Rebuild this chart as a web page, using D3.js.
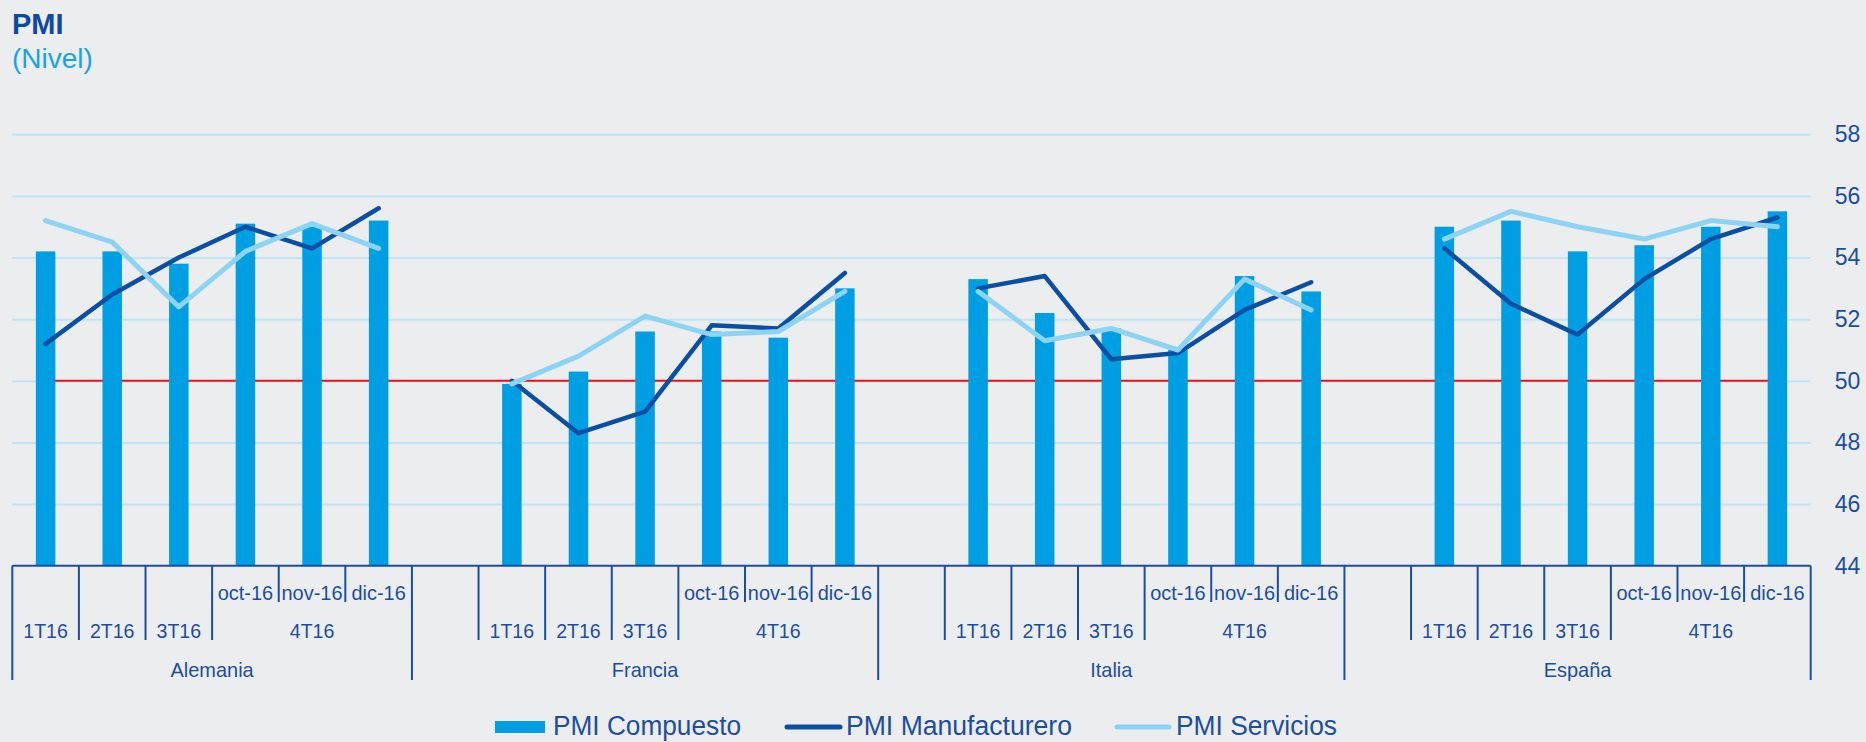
<!DOCTYPE html>
<html>
<head>
<meta charset="utf-8">
<script src="https://cdn.jsdelivr.net/npm/d3@7"></script>
<style>
  html, body { margin: 0; padding: 0; background: #ecedef; }
  svg { display: block; }
  text { font-family: "Liberation Sans", Arial, sans-serif; }
</style>
</head>
<body>
<svg id="chart" width="1866" height="742"></svg>
<script>
// ---- data ----
const countries = ["Alemania", "Francia", "Italia", "España"];
const periods = ["1T16", "2T16", "3T16", "oct-16", "nov-16", "dic-16"];
const monthLabels = ["", "", "", "oct-16", "nov-16", "dic-16"];
const quarterLabels = ["1T16", "2T16", "3T16", "4T16"];
const yTicks = [44, 46, 48, 50, 52, 54, 56, 58];
const seriesNames = ["PMI Compuesto", "PMI Manufacturero", "PMI Servicios"];

const compuesto = [54.2, 54.2, 53.8, 55.1, 55.0, 55.2,
                   49.9, 50.3, 51.6, 51.6, 51.4, 53.0,
                   53.3, 52.2, 51.7, 51.0, 53.4, 52.9,
                   55.0, 55.2, 54.2, 54.4, 55.0, 55.5];
const manufacturero = [51.2, 52.8, 54.0, 55.0, 54.3, 55.6,
                       50.0, 48.3, 49.0, 51.8, 51.7, 53.5,
                       53.0, 53.4, 50.7, 50.9, 52.3, 53.2,
                       54.3, 52.5, 51.5, 53.3, 54.6, 55.3];
const servicios = [55.2, 54.5, 52.4, 54.2, 55.1, 54.3,
                   49.9, 50.8, 52.1, 51.5, 51.6, 52.9,
                   52.9, 51.3, 51.7, 51.0, 53.3, 52.3,
                   54.6, 55.5, 55.0, 54.6, 55.2, 55.0];
const referenceLevel = 50;

(function () {
// ---- layout ----
const svg = d3.select("#chart");
const pLeft = 12.3, pRight = 1810.7, pTop = 134.3, pBottom = 565.7;
const cBar = "#009fe3", cMan = "#0a4fa3", cSer = "#8dd3f3", cText = "#1c4e9f", cGrid = "#bfe4f6";

// build leaf categories: first country has 6, others get a leading empty slot
const leaves = [];
countries.forEach((c, ci) => {
  if (ci > 0) leaves.push({ country: c, idx: -1, key: c + "-gap" });
  periods.forEach((p, pi) => leaves.push({ country: c, idx: pi, key: c + "-" + p, dataIndex: ci * 6 + pi }));
});

const x = d3.scaleBand().domain(leaves.map(d => d.key)).range([pLeft, pRight]).paddingInner(0).paddingOuter(0);
const y = d3.scaleLinear().domain([44, 58]).range([pBottom, pTop]);
const bw = x.bandwidth();
const cx = k => x(k) + bw / 2;

function squeeze(sel, f) {
  sel.each(function () {
    const w = this.getComputedTextLength();
    d3.select(this).attr("textLength", w * f).attr("lengthAdjust", "spacingAndGlyphs");
  });
}

// title
svg.append("text").attr("x", 12).attr("y", 34).attr("font-size", 29).attr("font-weight", "bold")
  .attr("fill", "#0d4a9e").text("PMI");
svg.append("text").attr("x", 12).attr("y", 68).attr("font-size", 28).attr("fill", "#1aa3e2").text("(Nivel)");

// gridlines
const yAxis = d3.axisRight(y).tickValues(yTicks).tickSize(-(pRight - pLeft)).tickFormat(d3.format("d")).tickPadding(24);
const gy = svg.append("g").attr("transform", `translate(${pRight},0)`).call(yAxis);
gy.select(".domain").remove();
gy.selectAll(".tick line").attr("stroke", cGrid).attr("stroke-width", 2)
  .filter(d => d === 44).remove();
gy.selectAll(".tick text").attr("font-size", 23).attr("fill", cText)
  .attr("font-family", "'Liberation Sans', Arial, sans-serif");

// reference line at 50
const dataLeaves = leaves.filter(d => d.idx >= 0);
svg.append("line")
  .attr("x1", cx(dataLeaves[0].key)).attr("x2", cx(dataLeaves[dataLeaves.length - 1].key))
  .attr("y1", y(referenceLevel)).attr("y2", y(referenceLevel))
  .attr("stroke", "#e8141b").attr("stroke-width", 2);

// bars
const barW = 19.5;
svg.append("g").selectAll("rect").data(dataLeaves).join("rect")
  .attr("x", d => cx(d.key) - barW / 2)
  .attr("width", barW)
  .attr("y", d => y(compuesto[d.dataIndex]))
  .attr("height", d => y(44) - y(compuesto[d.dataIndex]))
  .attr("fill", cBar);

// lines per country
const lineGen = d3.line().x(d => d[0]).y(d => d[1]);
function drawSeries(values, color, width) {
  countries.forEach((c) => {
    const pts = dataLeaves.filter(d => d.country === c).map(d => [cx(d.key), y(values[d.dataIndex])]);
    svg.append("path").attr("d", lineGen(pts)).attr("fill", "none")
      .attr("stroke", color).attr("stroke-width", width)
      .attr("stroke-linecap", "round").attr("stroke-linejoin", "round");
  });
}
drawSeries(manufacturero, cMan, 4.5);
drawSeries(servicios, cSer, 5);

// category axis
const ax = svg.append("g");
ax.append("line").attr("x1", pLeft).attr("x2", pRight).attr("y1", pBottom).attr("y2", pBottom)
  .attr("stroke", cText).attr("stroke-width", 2);

const yMonth = 602, yQuarter = 640, yCountry = 680;
const bounds = [];
for (let i = 0; i <= leaves.length; i++) {
  const prev = leaves[i - 1], next = leaves[i];
  let depth;
  if (!prev || !next || prev.country !== next.country) depth = yCountry;
  else if (prev.idx >= 3 && next.idx >= 3) depth = yMonth;
  else depth = yQuarter;
  const xx = next ? x(next.key) : pRight;
  bounds.push({ x: xx, depth });
}
ax.selectAll("line.tick").data(bounds).join("line").attr("class", "tick")
  .attr("x1", d => d.x).attr("x2", d => d.x).attr("y1", pBottom).attr("y2", d => d.depth)
  .attr("stroke", cText).attr("stroke-width", 2);

// month labels
const mt = ax.selectAll("text.month").data(dataLeaves.filter(d => monthLabels[d.idx] !== "")).join("text")
  .attr("class", "month").attr("x", d => cx(d.key)).attr("y", 600).attr("text-anchor", "middle")
  .attr("font-size", 21).attr("fill", cText).text(d => monthLabels[d.idx]);
squeeze(mt, 0.95);

// quarter labels
const qData = [];
countries.forEach(c => {
  const ls = dataLeaves.filter(d => d.country === c);
  [0, 1, 2].forEach(i => qData.push({ label: quarterLabels[i], x: cx(ls[i].key) }));
  qData.push({ label: quarterLabels[3], x: (x(ls[3].key) + x(ls[5].key) + bw) / 2 });
});
const qt = ax.selectAll("text.q").data(qData).join("text").attr("class", "q")
  .attr("x", d => d.x).attr("y", 638).attr("text-anchor", "middle")
  .attr("font-size", 21).attr("fill", cText).text(d => d.label);
squeeze(qt, 0.93);

// country labels
const cData = countries.map(c => {
  const ls = leaves.filter(d => d.country === c);
  return { label: c, x: (x(ls[0].key) + x(ls[ls.length - 1].key) + bw) / 2 };
});
const ct = ax.selectAll("text.c").data(cData).join("text").attr("class", "c")
  .attr("x", d => d.x).attr("y", 677).attr("text-anchor", "middle")
  .attr("font-size", 21).attr("fill", cText).text(d => d.label);
squeeze(ct, 0.95);

// legend
const lg = svg.append("g");
const legY = 727;
lg.append("rect").attr("x", 495).attr("y", legY - 6).attr("width", 50).attr("height", 12).attr("fill", cBar);
lg.append("line").attr("x1", 787).attr("x2", 840).attr("y1", legY).attr("y2", legY)
  .attr("stroke", cMan).attr("stroke-width", 5).attr("stroke-linecap", "round");
lg.append("line").attr("x1", 1117).attr("x2", 1169).attr("y1", legY).attr("y2", legY)
  .attr("stroke", cSer).attr("stroke-width", 5).attr("stroke-linecap", "round");
const legText = [
  { t: seriesNames[0], x: 553, w: 188 },
  { t: seriesNames[1], x: 846, w: 226 },
  { t: seriesNames[2], x: 1176, w: 161 }
];
lg.selectAll("text").data(legText).join("text")
  .attr("x", d => d.x).attr("y", 735).attr("font-size", 27).attr("fill", cText)
  .attr("textLength", d => d.w).attr("lengthAdjust", "spacingAndGlyphs").text(d => d.t);
})();
</script>
</body>
</html>
